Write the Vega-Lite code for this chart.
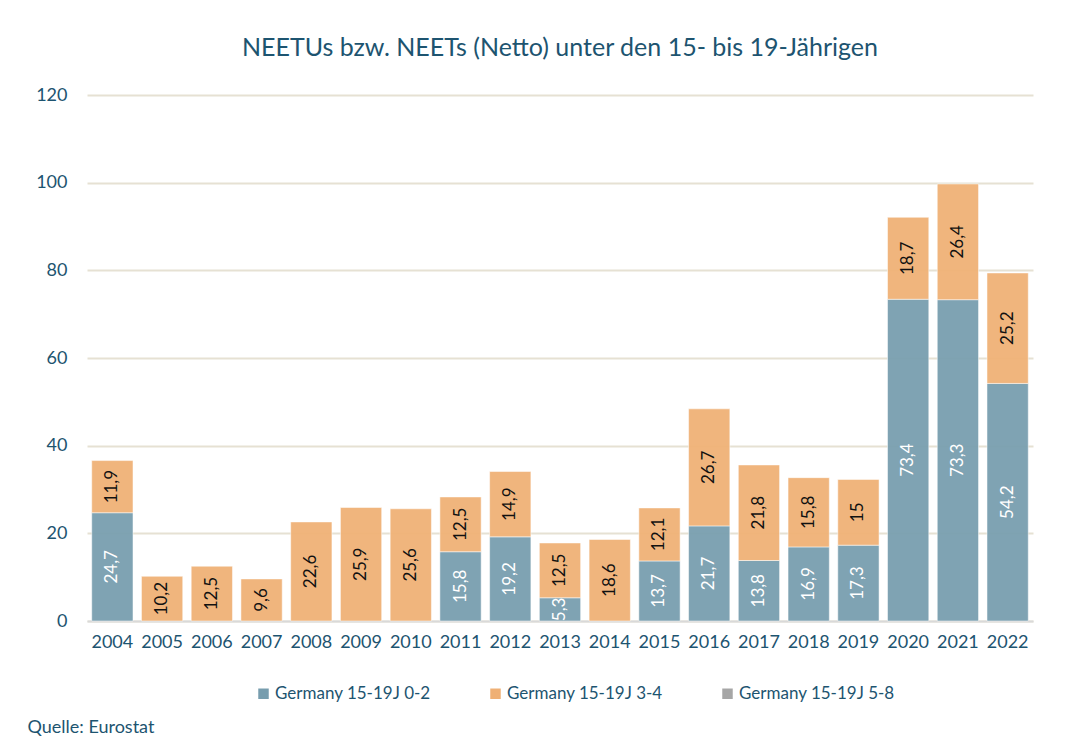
{
  "$schema": "https://vega.github.io/schema/vega-lite/v6.json",
  "width": 946,
  "height": 526,
  "autosize": {"type": "none"},
  "padding": {"left": 87, "top": 95, "right": 55, "bottom": 131},
  "background": "white",
  "config": {
    "font": "Lato",
    "view": {"stroke": null},
    "locale": {"number": {"decimal": ",", "thousands": ".", "grouping": [3], "currency": ["", " €"]}}
  },
  "title": {
    "text": "NEETUs bzw. NEETs (Netto) unter den 15- bis 19-Jährigen",
    "font": "Lato",
    "fontSize": 25,
    "fontWeight": "normal",
    "color": "#1d5470",
    "anchor": "middle",
    "frame": "group",
    "offset": 25
  },
  "data": {
    "values": [
      {"year": "2004", "series": "Germany 15-19J 0-2", "value": 24.7},
      {"year": "2004", "series": "Germany 15-19J 3-4", "value": 11.9},
      {"year": "2005", "series": "Germany 15-19J 3-4", "value": 10.2},
      {"year": "2006", "series": "Germany 15-19J 3-4", "value": 12.5},
      {"year": "2007", "series": "Germany 15-19J 3-4", "value": 9.6},
      {"year": "2008", "series": "Germany 15-19J 3-4", "value": 22.6},
      {"year": "2009", "series": "Germany 15-19J 3-4", "value": 25.9},
      {"year": "2010", "series": "Germany 15-19J 3-4", "value": 25.6},
      {"year": "2011", "series": "Germany 15-19J 0-2", "value": 15.8},
      {"year": "2011", "series": "Germany 15-19J 3-4", "value": 12.5},
      {"year": "2012", "series": "Germany 15-19J 0-2", "value": 19.2},
      {"year": "2012", "series": "Germany 15-19J 3-4", "value": 14.9},
      {"year": "2013", "series": "Germany 15-19J 0-2", "value": 5.3},
      {"year": "2013", "series": "Germany 15-19J 3-4", "value": 12.5},
      {"year": "2014", "series": "Germany 15-19J 3-4", "value": 18.6},
      {"year": "2015", "series": "Germany 15-19J 0-2", "value": 13.7},
      {"year": "2015", "series": "Germany 15-19J 3-4", "value": 12.1},
      {"year": "2016", "series": "Germany 15-19J 0-2", "value": 21.7},
      {"year": "2016", "series": "Germany 15-19J 3-4", "value": 26.7},
      {"year": "2017", "series": "Germany 15-19J 0-2", "value": 13.8},
      {"year": "2017", "series": "Germany 15-19J 3-4", "value": 21.8},
      {"year": "2018", "series": "Germany 15-19J 0-2", "value": 16.9},
      {"year": "2018", "series": "Germany 15-19J 3-4", "value": 15.8},
      {"year": "2019", "series": "Germany 15-19J 0-2", "value": 17.3},
      {"year": "2019", "series": "Germany 15-19J 3-4", "value": 15},
      {"year": "2020", "series": "Germany 15-19J 0-2", "value": 73.4},
      {"year": "2020", "series": "Germany 15-19J 3-4", "value": 18.7},
      {"year": "2021", "series": "Germany 15-19J 0-2", "value": 73.3},
      {"year": "2021", "series": "Germany 15-19J 3-4", "value": 26.4},
      {"year": "2022", "series": "Germany 15-19J 0-2", "value": 54.2},
      {"year": "2022", "series": "Germany 15-19J 3-4", "value": 25.2}
    ]
  },
  "transform": [
    {"stack": "value", "groupby": ["year"], "sort": [{"field": "series", "order": "ascending"}], "as": ["v0", "v1"]}
  ],
  "encoding": {
    "x": {
      "field": "year",
      "type": "ordinal",
      "scale": {"paddingInner": 0.17, "paddingOuter": 0.095},
      "axis": {
        "labelAngle": 0,
        "labelFontSize": 18,
        "labelColor": "#1d5470",
        "labelPadding": 12,
        "ticks": false,
        "domainColor": "#d9d9d9",
        "domainWidth": 2,
        "title": "Quelle: Eurostat",
        "titleFontSize": 18,
        "titleFontWeight": "normal",
        "titleColor": "#1d5470",
        "titleAlign": "left",
        "titleAnchor": "start",
        "titleBaseline": "middle",
        "titleX": -60,
        "titleY": 106
      }
    }
  },
  "layer": [
    {
      "mark": {"type": "bar", "stroke": "white", "strokeWidth": 1, "strokeOpacity": 0.5, "fillOpacity": 0.94},
      "encoding": {
        "y": {
          "field": "v0",
          "type": "quantitative",
          "scale": {"domain": [0, 120]},
          "axis": {
            "values": [0, 20, 40, 60, 80, 100, 120],
            "title": null,
            "domain": false,
            "ticks": false,
            "labelFontSize": 18,
            "labelColor": "#1d5470",
            "labelPadding": 20,
            "gridColor": "#e6e1d3",
            "gridWidth": 2
          }
        },
        "y2": {"field": "v1"},
        "color": {
          "field": "series",
          "type": "nominal",
          "scale": {
            "domain": ["Germany 15-19J 0-2", "Germany 15-19J 3-4", "Germany 15-19J 5-8"],
            "range": ["#779dae", "#efb075", "#a6a6a6"]
          },
          "legend": {
            "title": null,
            "orient": "none",
            "direction": "horizontal",
            "legendX": 168,
            "legendY": 590,
            "symbolType": "square",
            "symbolSize": 110,
            "symbolStrokeWidth": 0,
            "labelFontSize": 17,
            "labelColor": "#1d5470",
            "labelOffset": 3,
            "columnPadding": 56
          }
        }
      }
    },
    {
      "transform": [{"calculate": "(datum.v0 + datum.v1) / 2", "as": "mid"}],
      "mark": {"type": "text", "angle": -90, "align": "center", "baseline": "middle", "fontSize": 17, "font": "Lato"},
      "encoding": {
        "y": {"field": "mid", "type": "quantitative"},
        "text": {"field": "value", "type": "quantitative", "format": "~r"},
        "color": {
          "condition": {"test": "datum.series === 'Germany 15-19J 0-2'", "value": "white"},
          "value": "#111111"
        }
      }
    }
  ]
}
